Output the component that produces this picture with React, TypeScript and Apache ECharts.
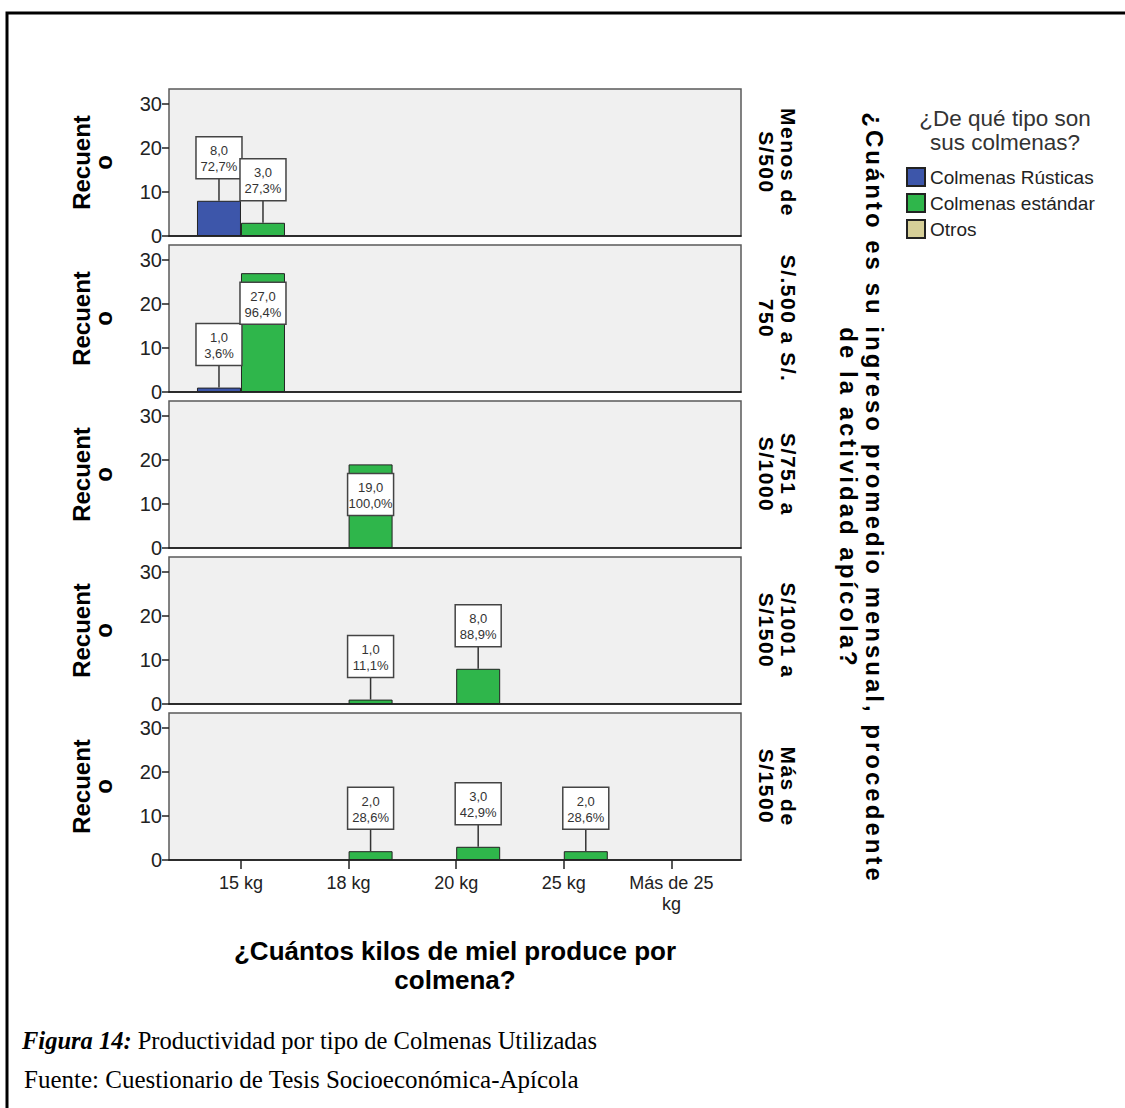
import React, { useEffect, useRef } from 'react';
import * as echarts from 'echarts';

const kgCategories = ['15 kg', '18 kg', '20 kg', '25 kg', 'Más de 25\nkg'];
const incomeLevels = ['Menos de\nS/500', 'S/.500 a S/.\n750', 'S/751 a\nS/1000', 'S/1001 a\nS/1500', 'Más de\nS/1500'];
const hiveTypes = ['Colmenas Rústicas', 'Colmenas estándar', 'Otros'];
const rusticasCounts = [
  [8, 0, 0, 0, 0],
  [1, 0, 0, 0, 0],
  [0, 0, 0, 0, 0],
  [0, 0, 0, 0, 0],
  [0, 0, 0, 0, 0],
];
const estandarCounts = [
  [3, 0, 0, 0, 0],
  [27, 0, 0, 0, 0],
  [0, 19, 0, 0, 0],
  [0, 1, 8, 0, 0],
  [0, 2, 3, 2, 0],
];
const otrosCounts = [
  [0, 0, 0, 0, 0],
  [0, 0, 0, 0, 0],
  [0, 0, 0, 0, 0],
  [0, 0, 0, 0, 0],
  [0, 0, 0, 0, 0],
];
const yTicks = [0, 10, 20, 30];
const xTicks = [0, 1, 2, 3, 4];
const Y_MAX = 33.4;
const yTitle = 'Recuent\no';
const xTitle = '¿Cuántos kilos de miel produce por\ncolmena?';
const panelTitle = '¿Cuánto es su ingreso promedio mensual, procedente\nde la actividad apícola?';
const legendTitle = '¿De qué tipo son\nsus colmenas?';
const captionText = '{b|Figura 14:} Productividad por tipo de Colmenas Utilizadas';
const sourceText = 'Fuente: Cuestionario de Tesis Socioeconómica-Apícola';

const COLORS = ['#3d56aa', '#2fb64b', '#d6cf98'];
const FONT = 'Liberation Sans, Arial, sans-serif';
const SERIF = 'Liberation Serif, Times New Roman, serif';

const PANEL_TOPS = [89, 245, 401, 557, 713];
const PANEL_H = 147;
const PANEL_LEFT = 169;
const PANEL_W = 572;
const X_MIN = -0.669;
const X_MAX = 4.647;
const BAR_W = 44;

const fmt = (n: number) => n.toFixed(1).replace('.', ',');

const toBarData = (counts: number[]) =>
  counts.map((v, k) => (v > 0 ? [k, v] : null)).filter((d) => d !== null);

const toLabelData = (counts: number[], total: number) =>
  counts.map((v, k) => (v > 0 ? [k, v, (v / total) * 100] : null)).filter((d) => d !== null);

const makeLabelRenderer = (side: number) => (params: any, api: any) => {
  const xv = api.value(0);
  const v = api.value(1);
  const pct = api.value(2);
  const p = api.coord([xv, v]);
  const cx = p[0] + side * (BAR_W / 2);
  const barTop = p[1];
  const cs = params.coordSys;
  const w = 46;
  const h = 42;
  let boxTop = barTop - 22 - h;
  let withLine = true;
  if (boxTop < cs.y + 10) {
    boxTop = barTop + 9;
    withLine = false;
  }
  const children: any[] = [];
  if (withLine) {
    children.push({
      type: 'line',
      shape: { x1: cx, y1: barTop, x2: cx, y2: boxTop + h },
      style: { stroke: '#333', lineWidth: 1.5 },
    });
  }
  children.push({
    type: 'rect',
    shape: { x: cx - w / 2, y: boxTop, width: w, height: h },
    style: { fill: '#ffffff', stroke: '#444', lineWidth: 1.5 },
  });
  children.push({
    type: 'text',
    x: cx,
    y: boxTop + h / 2 + 1,
    style: {
      text: fmt(v) + '\n' + fmt(pct) + '%',
      align: 'center',
      verticalAlign: 'middle',
      fontSize: 13,
      lineHeight: 16,
      fill: '#333',
      fontFamily: FONT,
    },
  });
  return { type: 'group', children };
};

function buildOption() {
  const grid: any[] = PANEL_TOPS.map((top) => ({
    left: PANEL_LEFT,
    top,
    width: PANEL_W,
    height: PANEL_H,
    show: true,
    backgroundColor: '#f0f0f0',
    borderColor: '#5a5a5a',
    borderWidth: 1.5,
  }));
  grid.push({ left: 0, top: 0, width: 1, height: 1, show: false });

  const xAxis: any[] = PANEL_TOPS.map((_, i) => ({
    type: 'value',
    gridIndex: i,
    min: X_MIN,
    max: X_MAX,
    splitLine: { show: false },
    axisLine: { show: true, onZero: false, lineStyle: { color: '#111', width: 1.5 } },
    axisTick: {
      show: i === 4,
      customValues: xTicks,
      length: 9,
      lineStyle: { color: '#222', width: 1.5 },
    },
    axisLabel: {
      show: i === 4,
      customValues: xTicks,
      formatter: (v: number) => kgCategories[Math.round(v)] ?? '',
      fontSize: 18,
      color: '#222',
      margin: 12,
      lineHeight: 21,
      fontFamily: FONT,
    },
    name: i === 4 ? xTitle : '',
    nameLocation: 'middle',
    nameGap: 76,
    nameTextStyle: { fontSize: 26, fontWeight: 'bold', color: '#000', lineHeight: 29, fontFamily: FONT },
  }));
  xAxis.push({ type: 'value', gridIndex: 5, show: false });

  const yAxis: any[] = PANEL_TOPS.map((_, i) => ({
    type: 'value',
    gridIndex: i,
    min: 0,
    max: Y_MAX,
    splitLine: { show: false },
    axisLine: { show: false, onZero: false },
    axisTick: { show: true, customValues: yTicks, length: 7, lineStyle: { color: '#222', width: 1.5 } },
    axisLabel: {
      customValues: yTicks,
      fontSize: 20,
      color: '#222',
      margin: 7,
      fontFamily: FONT,
    },
    name: yTitle,
    nameLocation: 'middle',
    nameRotate: 90,
    nameGap: 55,
    nameTextStyle: { fontSize: 24, fontWeight: 'bold', color: '#000', lineHeight: 22, fontFamily: FONT },
  }));
  PANEL_TOPS.forEach((_, i) => {
    yAxis.push({
      type: 'value',
      gridIndex: i,
      position: 'right',
      min: 0,
      max: Y_MAX,
      splitLine: { show: false },
      axisLine: { show: false, onZero: false },
      axisTick: { show: false },
      axisLabel: { show: false },
      name: incomeLevels[i],
      nameLocation: 'middle',
      nameRotate: -90,
      nameGap: 14,
      nameTextStyle: { fontSize: 21, fontWeight: 'bold', color: '#000', lineHeight: 22, fontFamily: FONT },
    });
  });
  yAxis.push({ type: 'value', gridIndex: 5, show: false });

  const series: any[] = [];
  PANEL_TOPS.forEach((_, i) => {
    const total =
      rusticasCounts[i].reduce((a, b) => a + b, 0) +
      estandarCounts[i].reduce((a, b) => a + b, 0) +
      otrosCounts[i].reduce((a, b) => a + b, 0);
    [rusticasCounts[i], estandarCounts[i]].forEach((counts, s) => {
      series.push({
        type: 'bar',
        name: hiveTypes[s],
        xAxisIndex: i,
        yAxisIndex: i,
        barWidth: BAR_W,
        barGap: '0%',
        data: toBarData(counts),
        itemStyle: { color: COLORS[s], borderColor: '#222', borderWidth: 1 },
        emphasis: { disabled: true },
        z: 2,
      });
    });
    [rusticasCounts[i], estandarCounts[i]].forEach((counts, s) => {
      series.push({
        type: 'custom',
        name: 'labels-' + i + '-' + s,
        xAxisIndex: i,
        yAxisIndex: i,
        clip: false,
        z: 5,
        data: toLabelData(counts, total),
        renderItem: makeLabelRenderer(s === 0 ? -1 : 1),
        silent: true,
      });
    });
  });
  series.push({
    type: 'bar',
    name: hiveTypes[2],
    xAxisIndex: 5,
    yAxisIndex: 10,
    data: [],
    itemStyle: { color: COLORS[2], borderColor: '#222', borderWidth: 1 },
  });

  return {
    animation: false,
    backgroundColor: '#ffffff',
    grid,
    xAxis,
    yAxis,
    series,
    legend: {
      data: hiveTypes,
      orient: 'vertical',
      left: 906,
      top: 167,
      itemWidth: 18,
      itemHeight: 18,
      itemGap: 6,
      icon: 'rect',
      selectedMode: false,
      padding: 0,
      textStyle: { fontSize: 19, color: '#222', fontFamily: FONT },
    },
    graphic: [
      {
        type: 'polyline',
        shape: { points: [[7, 1120], [7, 13], [1130, 13]] },
        style: { stroke: '#000', lineWidth: 3, fill: null },
        silent: true,
      },
      {
        type: 'text',
        x: 861,
        y: 498,
        rotation: -Math.PI / 2,
        style: {
          text: panelTitle,
          align: 'center',
          verticalAlign: 'middle',
          fontSize: 24,
          fontWeight: 'bold',
          lineHeight: 26,
          fill: '#000',
          fontFamily: FONT,
        },
      },
      {
        type: 'text',
        x: 1005,
        y: 130,
        style: {
          text: legendTitle,
          align: 'center',
          verticalAlign: 'middle',
          fontSize: 22.5,
          lineHeight: 24,
          fill: '#333',
          fontFamily: FONT,
        },
      },
      {
        type: 'text',
        x: 22,
        y: 1040,
        style: {
          text: captionText,
          verticalAlign: 'middle',
          fontSize: 24.5,
          fill: '#000',
          fontFamily: SERIF,
          rich: {
            b: { fontSize: 24.5, fontWeight: 'bold', fontStyle: 'italic', fill: '#000', fontFamily: SERIF },
          },
        },
      },
      {
        type: 'text',
        x: 24,
        y: 1079,
        style: {
          text: sourceText,
          verticalAlign: 'middle',
          fontSize: 25,
          fill: '#000',
          fontFamily: SERIF,
        },
      },
    ],
  };
}

export default function App() {
  const ref = useRef<HTMLDivElement>(null);
  useEffect(() => {
    if (!ref.current) return;
    const chart = echarts.init(ref.current, null, { renderer: 'svg' });
    chart.setOption(buildOption() as any);
    const levelLines = new Set<string>(incomeLevels.flatMap((s) => s.split('\n')));
    const titleLines = new Set<string>(panelTitle.split('\n'));
    const applySpacing = () => {
      if (!ref.current) return;
      ref.current.querySelectorAll('text').forEach((t) => {
        const s = (t.textContent || '').trim();
        if (levelLines.has(s)) t.setAttribute('letter-spacing', '1.5');
        if (titleLines.has(s)) t.setAttribute('letter-spacing', '3');
      });
    };
    applySpacing();
    const timer = setTimeout(applySpacing, 50);
    return () => {
      clearTimeout(timer);
      chart.dispose();
    };
  }, []);
  return (
    <div
      ref={ref}
      style={{ position: 'absolute', left: 0, top: 0, width: 1125, height: 1108, background: '#fff' }}
    />
  );
}
